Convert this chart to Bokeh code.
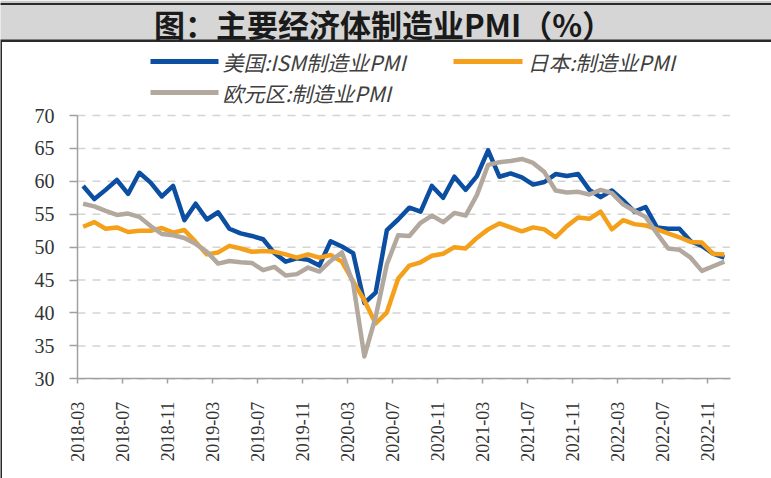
from bokeh.plotting import figure
from bokeh.models import FixedTicker, ColumnDataSource, Range1d
from bokeh.core.properties import value
from bokeh.embed import file_html
from bokeh.resources import INLINE
from math import pi

# ---- data ----
months = ([f"2018-{m:02d}" for m in range(3, 13)] +
          [f"{y}-{m:02d}" for y in (2019, 2020, 2021, 2022) for m in range(1, 13)])

us_ism = [59.3, 57.3, 58.7, 60.2, 58.1, 61.3, 59.8, 57.7, 59.3, 54.1,
          56.6, 54.2, 55.3, 52.8, 52.1, 51.7, 51.2, 49.1, 47.8, 48.3, 48.1, 47.2,
          50.9, 50.1, 49.1, 41.5, 43.1, 52.6, 54.2, 56.0, 55.4, 59.3, 57.5, 60.7,
          58.7, 60.8, 64.7, 60.7, 61.2, 60.6, 59.5, 59.9, 61.1, 60.8, 61.1, 58.7,
          57.6, 58.6, 57.1, 55.4, 56.1, 53.0, 52.8, 52.8, 50.9, 50.2, 49.0, 48.4]

japan = [53.1, 53.8, 52.8, 53.0, 52.3, 52.5, 52.5, 52.9, 52.2, 52.6,
         50.8, 48.9, 49.2, 50.2, 49.8, 49.3, 49.4, 49.3, 48.9, 48.4, 48.9, 48.4,
         48.8, 47.8, 44.8, 41.9, 38.4, 40.1, 45.2, 47.2, 47.7, 48.7, 49.0, 50.0,
         49.8, 51.4, 52.7, 53.6, 53.0, 52.4, 53.0, 52.7, 51.5, 53.2, 54.5, 54.3,
         55.4, 52.7, 54.1, 53.5, 53.3, 52.7, 52.1, 51.5, 50.8, 50.7, 49.0, 48.9]

eurozone = [56.6, 56.2, 55.5, 54.9, 55.1, 54.6, 53.2, 52.0, 51.8, 51.4,
            50.5, 49.3, 47.5, 47.9, 47.7, 47.6, 46.5, 47.0, 45.7, 45.9, 46.9, 46.3,
            47.9, 49.2, 44.5, 33.4, 39.4, 47.4, 51.8, 51.7, 53.7, 54.8, 53.8, 55.2,
            54.8, 57.9, 62.5, 62.9, 63.1, 63.4, 62.8, 61.4, 58.6, 58.3, 58.4, 58.0,
            58.7, 58.2, 56.5, 55.5, 54.6, 52.1, 49.8, 49.6, 48.4, 46.4, 47.1, 47.8]

tick_labels = ["2018-03", "2018-07", "2018-11", "2019-03", "2019-07", "2019-11",
               "2020-03", "2020-07", "2020-11", "2021-03", "2021-07", "2021-11",
               "2022-03", "2022-07", "2022-11"]
y_ticks = [30, 35, 40, 45, 50, 55, 60, 65, 70]

series_names = ["美国:ISM制造业PMI", "日本:制造业PMI", "欧元区:制造业PMI"]
series_colors = ["#0b4ea2", "#f5a01a", "#b3a89e"]
title_text = "图：主要经济体制造业PMI（%）"

# ---- geometry (pixels) ----
W, H = 771, 478
PL, PR = 77.0, 729.5          # plot area left / right
PT, PB = 115.0, 378.3         # y=70 and y=30 positions
N = len(months)
YMIN, YMAX = 30, 70
kx = (PR - PL) / N
ky = (PB - PT) / (YMAX - YMIN)

def dx(px):
    return (px - PL) / kx

def dy(py):
    return YMIN + (PB - py) / ky

p = figure(width=W, height=H, min_border=0,
           x_range=Range1d(dx(0), dx(W)), y_range=Range1d(dy(H), dy(0)),
           output_backend="svg", toolbar_location=None)
p.outline_line_color = None
p.background_fill_color = "white"
p.border_fill_color = "white"

# ---- header band + title + frame lines ----
p.quad(left=[dx(-5)], right=[dx(W + 5)], top=[dy(0)], bottom=[dy(2.5)],
       fill_color="#c8c8c8", line_color=None)
p.quad(left=[dx(-5)], right=[dx(W + 5)], top=[dy(4.5)], bottom=[dy(39.5)],
       fill_color="#d6d6d6", line_color=None)
p.quad(left=[dx(-5), dx(-5)], right=[dx(W + 5), dx(W + 5)], top=[dy(2.5), dy(39)],
       bottom=[dy(4.5), dy(41.5)], fill_color="#2a2a2a", line_color=None)
p.quad(left=[dx(-5)], right=[dx(1.5)], top=[dy(41.5)], bottom=[dy(H + 5)],
       fill_color="#2a2a2a", line_color=None)
p.text(x=[dx(383)], y=[dy(22.5)], text=[title_text], text_align="center",
       text_baseline="middle", text_font=value("Noto Sans CJK SC"),
       text_font_style="bold", text_font_size="31px", text_color="#1a1a1a")

# ---- legend ----
leg_x0 = [dx(150), dx(453), dx(150)]
leg_x1 = [dx(218), dx(522), dx(218)]
leg_y = [dy(61), dy(61), dy(92)]
leg_tx = [dx(222), dx(527), dx(222)]
p.segment(x0=leg_x0, x1=leg_x1, y0=leg_y, y1=leg_y, line_color=series_colors, line_width=5)
p.text(x=leg_tx, y=leg_y, text=series_names, text_align="left", text_baseline="middle",
       text_font=value("Noto Sans CJK SC"), text_font_style="italic",
       text_font_size="21px", text_color="#404040")

# ---- horizontal dashed gridlines (span the plot area only) ----
p.xgrid.visible = False
p.ygrid.visible = False
p.segment(x0=[0] * len(y_ticks), x1=[N] * len(y_ticks), y0=y_ticks, y1=y_ticks,
          line_color="#d4d4d4", line_width=1.5, line_dash="8 7")

# ---- series ----
xs = [i + 0.5 for i in range(N)]
src = ColumnDataSource(dict(x=xs, month=months, us=us_ism, jp=japan, ez=eurozone))
for col, c in zip(["us", "jp", "ez"], series_colors):
    p.line("x", col, source=src, line_color=c, line_width=4.5, line_join="round")

# ---- axes (drawn at fixed locations inside the full-canvas frame) ----
tick_pos = list(range(0, N, 4))
p.xaxis.fixed_location = YMIN
p.xaxis.bounds = (0, N)
p.xaxis.ticker = FixedTicker(ticks=tick_pos)
p.xaxis.major_label_overrides = {t: lab for t, lab in zip(tick_pos, tick_labels)}
p.xaxis.major_label_orientation = pi / 2
p.xaxis.minor_tick_line_color = None
p.xaxis.major_tick_out = 5
p.xaxis.major_tick_in = 0
p.xaxis.major_label_standoff = 18
p.xaxis.major_label_text_font = "Liberation Serif"
p.xaxis.major_label_text_font_size = "18px"
p.xaxis.major_label_text_color = "#333333"

p.yaxis.fixed_location = 0
p.yaxis.bounds = (YMIN, YMAX)
p.yaxis.ticker = FixedTicker(ticks=y_ticks)
p.yaxis.minor_tick_line_color = None
p.yaxis.major_tick_out = 8
p.yaxis.major_tick_in = 0
p.yaxis.major_label_standoff = 15
p.yaxis.major_label_text_font = "Liberation Serif"
p.yaxis.major_label_text_font_size = "20px"
p.yaxis.major_label_text_color = "#333333"

for ax in (p.xaxis, p.yaxis):
    ax.axis_line_color = "#a0a0a0"
    ax.axis_line_width = 1.5
    ax.major_tick_line_color = "#a0a0a0"
    ax.major_tick_line_width = 1.5

open("out.html", "w").write(file_html(p, INLINE))
